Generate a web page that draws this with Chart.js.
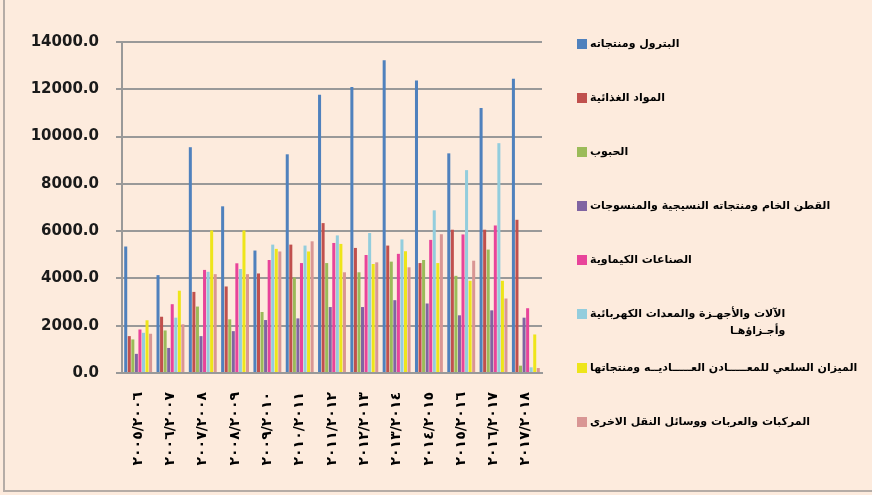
<!DOCTYPE html>
<html>
<head>
<meta charset="utf-8">
<script src="https://cdn.jsdelivr.net/npm/chart.js@4.4.1/dist/chart.umd.min.js"></script>
<style>
body { margin: 0; background: #fdebdd; }
</style>
</head>
<body>
<canvas id="trade" width="872" height="495"></canvas>
<script>
const years = ['٢٠٠٥/٢٠٠٦', '٢٠٠٦/٢٠٠٧', '٢٠٠٧/٢٠٠٨', '٢٠٠٨/٢٠٠٩', '٢٠٠٩/٢٠١٠', '٢٠١٠/٢٠١١', '٢٠١١/٢٠١٢',
  '٢٠١٢/٢٠١٣', '٢٠١٣/٢٠١٤', '٢٠١٤/٢٠١٥', '٢٠١٥/٢٠١٦', '٢٠١٦/٢٠١٧', '٢٠١٧/٢٠١٨'];
const yTicks = [0, 2000, 4000, 6000, 8000, 10000, 12000, 14000];

const petroleum = [5350, 4140, 9550, 7050, 5180, 9250, 11770, 12100, 13230, 12370, 9290, 11210, 12450];
const food = [1560, 2380, 3430, 3660, 4210, 5430, 6340, 5290, 5390, 4650, 6060, 6060, 6480];
const grains = [1420, 1800, 2810, 2270, 2580, 4040, 4650, 4260, 4710, 4780, 4110, 5220, 310];
const cotton = [810, 1060, 1560, 1770, 2240, 2310, 2790, 2790, 3080, 2940, 2440, 2650, 2340];
const chemicals = [1840, 2910, 4360, 4640, 4780, 4650, 5500, 4990, 5040, 5630, 5860, 6240, 2740];
const machinery = [1700, 2340, 4280, 4400, 5430, 5390, 5820, 5920, 5650, 6880, 8580, 9720, 240];
const metals = [2230, 3480, 6030, 6030, 5250, 5140, 5460, 4610, 5150, 4650, 3900, 3900, 1630];
const vehicles = [1660, 2060, 4180, 4180, 5140, 5570, 4260, 4680, 4470, 5870, 4750, 3150, 210];

const names = [
  ['البترول ومنتجاته'],
  ['المواد الغذائية'],
  ['الحبوب'],
  ['القطن الخام ومنتجاته النسيجية والمنسوجات'],
  ['الصناعات الكيماوية'],
  ['الآلات والأجهـزة والمعدات الكهربائية', 'وأجـزاؤهـا'],
  ['الميزان السلعي للمعـــــادن العـــــاديــه ومنتجاتها'],
  ['المركبات والعربات ووسائل النقل الاخرى']
];
const colors = ['#4f81bd', '#c0504d', '#9bbb59', '#8064a2', '#e8449a', '#93cddd', '#eee51a', '#d99694'];
const series = [petroleum, food, grains, cotton, chemicals, machinery, metals, vehicles];

// background + frame
const frame = {
  id: 'frame',
  beforeDraw(chart) {
    const ctx = chart.ctx;
    ctx.save();
    ctx.fillStyle = '#fdebdd';
    ctx.fillRect(0, 0, chart.width, chart.height);
    ctx.strokeStyle = '#b5aca6';
    ctx.lineWidth = 2;
    ctx.beginPath();
    ctx.moveTo(4, 0);
    ctx.lineTo(4, 491);
    ctx.lineTo(chart.width, 491);
    ctx.stroke();
    ctx.restore();
  }
};

// legend on the right, Arabic text right-aligned inside its block
const sideLegend = {
  id: 'sideLegend',
  afterDraw(chart) {
    const ctx = chart.ctx;
    ctx.save();
    ctx.font = 'bold 11px "DejaVu Sans"';
    ctx.textBaseline = 'middle';
    ctx.textAlign = 'right';
    const x = 577, box = 10;
    let y = 44;
    chart.data.datasets.forEach((ds, i) => {
      const lines = names[i];
      ctx.fillStyle = ds.backgroundColor;
      ctx.fillRect(x, y - box / 2, box, box);
      const w = Math.max(...lines.map(l => ctx.measureText(l).width));
      ctx.fillStyle = '#000';
      lines.forEach((l, j) => ctx.fillText(l, x + box + 3 + w, y + j * 17));
      y += 54;
    });
    ctx.restore();
  }
};

new Chart(document.getElementById('trade'), {
  type: 'bar',
  data: {
    labels: years,
    datasets: series.map((d, i) => ({
      label: names[i].join(' '),
      data: d,
      backgroundColor: colors[i],
      borderWidth: 0,
      categoryPercentage: 0.88,
      barPercentage: 0.85
    }))
  },
  options: {
    responsive: false,
    animation: false,
    layout: { padding: { left: 0, right: 330, top: 42, bottom: 0 } },
    plugins: {
      legend: { display: false },
      tooltip: { enabled: false }
    },
    scales: {
      x: {
        grid: { display: false },
        border: { display: true, color: '#999', width: 2 },
        ticks: {
          color: '#000',
          font: { family: '"DejaVu Sans"', size: 14, weight: 'bold' },
          minRotation: 90,
          maxRotation: 90,
          padding: 11,
          autoSkip: false
        },
        afterFit(s) { s.height = 122; }
      },
      y: {
        min: 0,
        max: 14000,
        afterBuildTicks(s) { s.ticks = yTicks.map(v => ({ value: v })); },
        grid: { color: '#999', lineWidth: 2, tickLength: 6 },
        border: { display: true, color: '#999', width: 2 },
        ticks: {
          color: '#1a1a1a',
          font: { family: '"DejaVu Sans"', size: 15, weight: 'bold' },
          padding: 17,
          callback: v => v.toFixed(1)
        },
        afterFit(s) { s.width = 122; }
      }
    }
  },
  plugins: [frame, sideLegend]
});
</script>
</body>
</html>
